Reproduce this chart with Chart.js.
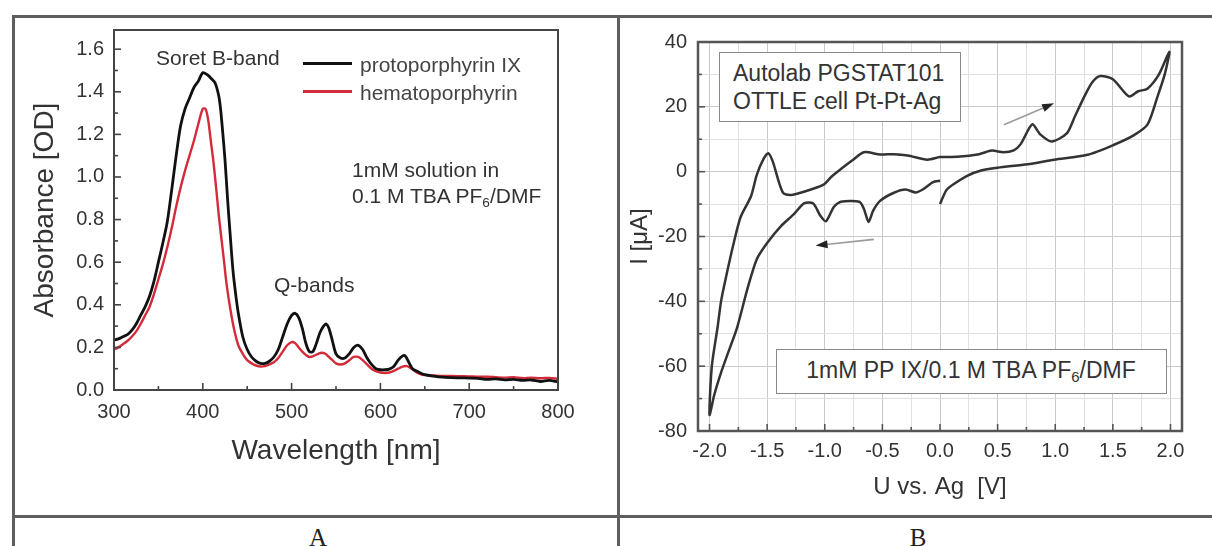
<!DOCTYPE html>
<html><head><meta charset="utf-8">
<script src="https://cdn.jsdelivr.net/npm/chart.js@4.4.1/dist/chart.umd.min.js"></script>
<style>
html,body{margin:0;padding:0;background:#fff;}
#fig{position:relative;width:1212px;height:546px;overflow:hidden;background:#fff;font-family:"Liberation Sans",Arial,sans-serif;color:#333;}
canvas{position:absolute;top:0;}
.ln{position:absolute;background:#5e5e5e;}
.t{position:absolute;white-space:nowrap;line-height:1;transform:translateY(-50%);}
.c{transform:translate(-50%,-50%);}
.box{position:absolute;background:#fff;border:1.5px solid #8a8a8a;box-sizing:border-box;}
.lg{position:absolute;height:3px;}
sub{font-size:0.65em;vertical-align:-0.3em;line-height:0;}
.lab{font-family:"Liberation Serif","Times New Roman",serif;font-size:25px;color:#222;}
</style></head><body>
<div id="fig">
  <canvas id="cA" width="618" height="516" style="left:0;width:618px;height:516px"></canvas>
  <canvas id="cB" width="594" height="516" style="left:618px;width:594px;height:516px"></canvas>

  <!-- table lines -->
  <div class="ln" style="left:12px;top:15px;width:1200px;height:2.5px"></div>
  <div class="ln" style="left:12px;top:15px;width:2.5px;height:531px"></div>
  <div class="ln" style="left:617px;top:15px;width:2.5px;height:531px"></div>
  <div class="ln" style="left:12px;top:515px;width:1200px;height:2.5px"></div>

  <!-- Panel A annotations -->
  <div class="t" style="left:156px;top:57px;font-size:21px;">Soret B-band</div>
  <div class="lg" style="left:303px;top:62px;width:49px;background:#111;"></div>
  <div class="lg" style="left:303px;top:90px;width:49px;background:#d42b3a;"></div>
  <div class="t" style="left:360px;top:64px;font-size:21px;color:#444;">protoporphyrin IX</div>
  <div class="t" style="left:360px;top:92px;font-size:21px;color:#444;">hematoporphyrin</div>
  <div class="t" style="left:352px;top:169px;font-size:21px;">1mM solution in</div>
  <div class="t" style="left:352px;top:195px;font-size:21px;">0.1 M TBA PF<sub>6</sub>/DMF</div>
  <div class="t" style="left:274px;top:284px;font-size:21px;">Q-bands</div>
  <div class="t c lab" style="left:318px;top:537px;">A</div>

  <!-- Panel B annotations -->
  <div class="box" style="left:719px;top:52px;width:242px;height:70px;"></div>
  <div class="t" style="left:733px;top:73px;font-size:23px;">Autolab PGSTAT101</div>
  <div class="t" style="left:733px;top:101px;font-size:23px;">OTTLE cell Pt-Pt-Ag</div>
  <div class="box" style="left:776px;top:349px;width:391px;height:45px;"></div>
  <div class="t c" style="left:971px;top:370px;font-size:23px;">1mM PP IX/0.1 M TBA PF<sub>6</sub>/DMF</div>
  <div class="t c lab" style="left:918px;top:537px;">B</div>
</div>
<script>
// ---------- Panel A data: UV-vis absorbance ----------
const protoWl = [300,305,310,315,320,325,330,335,340,345,350,355,360,365,370,375,380,385,390,395,400,
  405,410,414,418,420,422,425,428,431,434,437,440,
  445,450,455,460,465,470,475,480,485,490,495,500,
  504,508,512,516,520,524,528,532,536,539,542,546,
  550,555,560,565,570,575,580,585,590,595,600,605,610,615,620,625,
  628,632,636,640,645,650,
  660,670,680,690,700,710,720,730,740,750,760,770,780,790,800];
const protoAbs = [0.235,0.24,0.25,0.26,0.28,0.31,0.35,0.39,0.44,0.51,0.60,0.69,0.79,0.94,1.10,1.24,1.32,1.37,1.42,1.45,1.49,
  1.48,1.46,1.44,1.38,1.32,1.23,1.08,0.89,0.72,0.56,0.45,0.36,
  0.25,0.19,0.155,0.135,0.125,0.125,0.135,0.155,0.19,0.25,0.31,0.35,
  0.36,0.34,0.29,0.22,0.18,0.18,0.22,0.27,0.30,0.31,0.29,0.23,
  0.17,0.15,0.15,0.17,0.20,0.21,0.19,0.15,0.12,0.10,0.095,0.095,0.098,0.11,0.14,0.16,
  0.16,0.13,0.10,0.09,0.08,0.072,
  0.065,0.06,0.058,0.057,0.056,0.055,0.05,0.052,0.048,0.05,0.045,0.047,0.04,0.045,0.038];
const hemaWl = [300,305,310,315,320,325,330,335,340,345,350,355,360,365,370,375,380,385,390,395,400,
  403,406,409,412,415,418,421,424,427,431,435,440,
  445,450,455,460,465,470,475,480,485,490,495,500,
  504,508,512,516,520,525,530,534,538,542,546,
  550,555,560,565,570,575,580,585,590,595,600,605,610,615,620,625,630,635,640,645,650,
  660,670,680,690,700,710,720,730,740,750,760,770,780,790,800];
const hemaAbs = [0.19,0.20,0.215,0.23,0.25,0.275,0.31,0.35,0.39,0.45,0.52,0.59,0.67,0.76,0.86,0.95,1.03,1.10,1.17,1.25,1.32,
  1.32,1.27,1.17,1.07,0.95,0.82,0.71,0.60,0.49,0.38,0.29,0.21,
  0.17,0.14,0.125,0.115,0.11,0.112,0.12,0.13,0.15,0.18,0.21,0.225,
  0.22,0.20,0.18,0.165,0.155,0.16,0.17,0.175,0.17,0.155,0.14,
  0.125,0.12,0.125,0.14,0.155,0.155,0.14,0.12,0.10,0.088,0.082,0.08,0.082,0.09,0.10,0.11,0.112,0.10,0.085,0.075,0.07,
  0.068,0.066,0.066,0.065,0.064,0.062,0.062,0.06,0.058,0.06,0.056,0.058,0.055,0.057,0.052];
const aXTicks = [300,400,500,600,700,800];
const aXMinor = [350,450,550,650,750];
const aYTicks = [0,0.2,0.4,0.6,0.8,1.0,1.2,1.4,1.6];
const aYLabels = ['0.0','0.2','0.4','0.6','0.8','1.0','1.2','1.4','1.6'];
const aYMinor = [0.1,0.3,0.5,0.7,0.9,1.1,1.3,1.5];

// ---------- Panel B data: cyclic voltammogram ----------
const cvU = [0.0,-0.06,-0.15,-0.21,-0.30,-0.40,-0.52,-0.58,-0.62,-0.66,-0.70,-0.86,-0.92,-0.99,-1.04,-1.10,-1.18,-1.27,-1.38,-1.50,-1.59,-1.67,-1.76,-1.84,-1.90,-1.96,-2.0,
  -1.98,-1.93,-1.90,-1.86,-1.79,-1.73,-1.64,-1.59,-1.53,-1.49,-1.45,-1.40,-1.36,-1.30,-1.24,-1.12,-1.01,-0.94,-0.86,-0.76,-0.66,-0.52,-0.40,-0.28,-0.11,0.0,0.15,0.34,0.45,0.55,0.64,0.70,0.80,0.87,0.97,1.10,1.17,1.25,1.32,1.39,1.50,1.64,1.72,1.80,1.90,1.99,
  1.95,1.886,1.80,1.68,1.51,1.28,0.99,0.76,0.50,0.35,0.24,0.12,0.06,0.03,0.0];
const cvI = [-2.8,-3.2,-5.5,-6.4,-5.5,-6.5,-9.0,-12,-15.5,-11.5,-9.3,-9.3,-10.8,-15.3,-13.5,-9.8,-9.8,-13.2,-16.8,-22,-27,-36,-48,-56,-62,-69,-75,
  -60,-48,-40,-33,-22,-14,-7.6,-1,4,5.7,3,-3,-6.6,-7.2,-6.8,-5.5,-4.0,-1.5,0.8,3.5,6.0,5.3,5.4,5.0,3.7,4.5,4.6,5.4,6.5,6.0,6.6,8.5,14.6,11.5,9.3,11.8,17,23,27.5,29.5,28.5,23.2,24.8,25.6,30,37,
  30,23,14.5,11.2,8.3,5.2,3.7,2.3,1.2,0.3,-1.2,-3.8,-5.5,-7.5,-10];
const bXTicks = [-2,-1.75,-1.5,-1.25,-1,-0.75,-0.5,-0.25,0,0.25,0.5,0.75,1,1.25,1.5,1.75,2];
const bXLabelValues = [-2,-1.5,-1,-0.5,0,0.5,1,1.5,2];
const bXLabels = ['-2.0','-1.5','-1.0','-0.5','0.0','0.5','1.0','1.5','2.0'];
const bYTicks = [-80,-70,-60,-50,-40,-30,-20,-10,0,10,20,30,40];
const bYLabelValues = [-80,-60,-40,-20,0,20,40];
const bYLabels = ['-80','-60','-40','-20','0','20','40'];
const arrowFrom = [[0.555,14.5],[-0.574,-20.9]];
const arrowTo = [[0.99,21.1],[-1.08,-22.8]];

const FONT = "'Liberation Sans', Arial, sans-serif";
const near = (a,b) => Math.abs(a-b) < 1e-9;
const pts = (xs, ys) => xs.map((x,i) => ({x:x, y:ys[i]}));

// frame + inward ticks + arrows plugin
const framePlugin = {
  id: 'frame',
  afterDatasetsDraw(chart, args, o) {
    const {ctx, chartArea: a, scales: {x, y}} = chart;
    ctx.save();
    ctx.strokeStyle = o.color;
    ctx.lineWidth = o.tickWidth;
    const seg = (x1,y1,x2,y2) => { ctx.beginPath(); ctx.moveTo(x1,y1); ctx.lineTo(x2,y2); ctx.stroke(); };
    o.xMajor.forEach(v => { const p = x.getPixelForValue(v); seg(p, a.bottom, p, a.bottom - o.major); });
    o.xMinor.forEach(v => { const p = x.getPixelForValue(v); seg(p, a.bottom, p, a.bottom - o.minor); });
    o.yMajor.forEach(v => { const p = y.getPixelForValue(v); seg(a.left, p, a.left + o.major, p); });
    o.yMinor.forEach(v => { const p = y.getPixelForValue(v); seg(a.left, p, a.left + o.minor, p); });
    ctx.lineWidth = o.width;
    ctx.strokeRect(a.left, a.top, a.right - a.left, a.bottom - a.top);
    (o.arrows || []).forEach(ar => {
      const x1 = x.getPixelForValue(ar[0][0]), y1 = y.getPixelForValue(ar[0][1]);
      const x2 = x.getPixelForValue(ar[1][0]), y2 = y.getPixelForValue(ar[1][1]);
      const ang = Math.atan2(y2 - y1, x2 - x1);
      ctx.strokeStyle = '#9a9a9a'; ctx.lineWidth = 1.6;
      seg(x1, y1, x2 - 8*Math.cos(ang), y2 - 8*Math.sin(ang));
      ctx.fillStyle = '#222';
      ctx.beginPath();
      ctx.moveTo(x2, y2);
      ctx.lineTo(x2 - 12*Math.cos(ang) + 4*Math.sin(ang), y2 - 12*Math.sin(ang) - 4*Math.cos(ang));
      ctx.lineTo(x2 - 12*Math.cos(ang) - 4*Math.sin(ang), y2 - 12*Math.sin(ang) + 4*Math.cos(ang));
      ctx.closePath(); ctx.fill();
    });
    ctx.restore();
  }
};

// ---------- Chart A ----------
new Chart(document.getElementById('cA'), {
  type: 'scatter',
  data: { datasets: [
    { label: 'protoporphyrin IX', data: pts(protoWl, protoAbs), showLine: true, borderColor: '#111', borderWidth: 2.8, pointRadius: 0, tension: 0.3, fill: false },
    { label: 'hematoporphyrin', data: pts(hemaWl, hemaAbs), showLine: true, borderColor: '#d42b3a', borderWidth: 2.4, pointRadius: 0, tension: 0.3, fill: false }
  ]},
  options: {
    responsive: false, animation: false, events: [],
    layout: { padding: { left: 24, right: 60, top: 30, bottom: 44 } },
    plugins: { legend: { display: false }, tooltip: { enabled: false },
      frame: { color: '#444', width: 2, tickWidth: 1.6, major: 7, minor: 4,
        xMajor: aXTicks, xMinor: aXMinor, yMajor: aYTicks, yMinor: aYMinor } },
    scales: {
      x: { type: 'linear', min: 300, max: 800,
        afterBuildTicks: s => { s.ticks = aXTicks.map(v => ({value: v})); },
        afterFit: s => { s.height = 82; },
        ticks: { font: { family: FONT, size: 20 }, color: '#333', padding: 10, maxRotation: 0, autoSkip: false, callback: v => String(v) },
        grid: { display: false, drawTicks: false }, border: { display: false },
        title: { display: true, text: 'Wavelength [nm]', font: { family: FONT, size: 28 }, color: '#333', padding: { top: 4, bottom: 4 } } },
      y: { type: 'linear', min: 0, max: 1.69,
        afterBuildTicks: s => { s.ticks = aYTicks.map(v => ({value: v})); },
        afterFit: s => { s.width = 90; },
        ticks: { font: { family: FONT, size: 20 }, color: '#333', padding: 10, autoSkip: false,
          callback: (v) => { const k = aYTicks.findIndex(t => near(t, v)); return k < 0 ? '' : aYLabels[k]; } },
        grid: { display: false, drawTicks: false }, border: { display: false },
        title: { display: true, text: 'Absorbance [OD]', font: { family: FONT, size: 28 }, color: '#333', padding: { top: 4, bottom: 4 } } }
    }
  },
  plugins: [framePlugin]
});

// ---------- Chart B ----------
new Chart(document.getElementById('cB'), {
  type: 'scatter',
  data: { datasets: [
    { label: 'CV', data: pts(cvU, cvI), showLine: true, borderColor: '#333', borderWidth: 2.5, pointRadius: 0, tension: 0.25, fill: false }
  ]},
  options: {
    responsive: false, animation: false, events: [],
    layout: { padding: { left: 4, right: 30, top: 42, bottom: 10 } },
    plugins: { legend: { display: false }, tooltip: { enabled: false },
      frame: { color: '#555', width: 2.5, tickWidth: 1.6, major: 7, minor: 4,
        xMajor: bXLabelValues, xMinor: bXTicks.filter(v => !bXLabelValues.some(t => near(t, v))),
        yMajor: bYLabelValues, yMinor: bYTicks.filter(v => !bYLabelValues.some(t => near(t, v))),
        arrows: arrowFrom.map((f, i) => [f, arrowTo[i]]) } },
    scales: {
      x: { type: 'linear', min: -2.1, max: 2.1,
        afterBuildTicks: s => { s.ticks = bXTicks.map(v => ({value: v})); },
        afterFit: s => { s.height = 75; },
        ticks: { font: { family: FONT, size: 20 }, color: '#333', padding: 8, maxRotation: 0, autoSkip: false,
          callback: (v) => { const k = bXLabelValues.findIndex(t => near(t, v)); return k < 0 ? '' : bXLabels[k]; } },
        grid: { display: true, drawTicks: false, lineWidth: 1,
          color: c => (bXLabelValues.some(t => near(t, c.tick.value)) ? '#c9c9c9' : '#e0e0e0') },
        border: { display: false },
        title: { display: true, text: 'U vs. Ag  [V]', font: { family: FONT, size: 24 }, color: '#333', padding: { top: 4, bottom: 4 } } },
      y: { type: 'linear', min: -80, max: 40,
        afterBuildTicks: s => { s.ticks = bYTicks.map(v => ({value: v})); },
        afterFit: s => { s.width = 76; },
        ticks: { font: { family: FONT, size: 20 }, color: '#333', padding: 11, autoSkip: false,
          callback: (v) => { const k = bYLabelValues.findIndex(t => near(t, v)); return k < 0 ? '' : bYLabels[k]; } },
        grid: { display: true, drawTicks: false, lineWidth: 1,
          color: c => (bYLabelValues.some(t => near(t, c.tick.value)) ? '#c9c9c9' : '#e0e0e0') },
        border: { display: false },
        title: { display: true, text: 'I [\u03bcA]', font: { family: FONT, size: 24 }, color: '#333', padding: { top: 4, bottom: 4 } } }
    }
  },
  plugins: [framePlugin]
});
</script>
</body></html>
